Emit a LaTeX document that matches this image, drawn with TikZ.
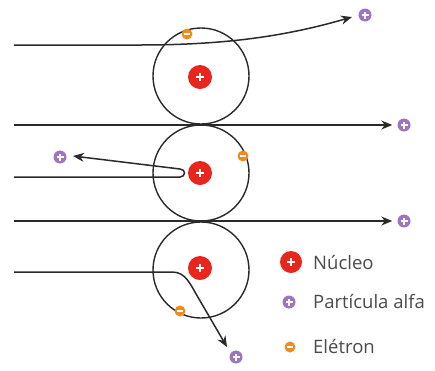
\documentclass[tikz,border=0pt]{standalone}
\usepackage{fontspec}
\setmainfont{Open Sans}
\usetikzlibrary{arrows.meta}
\definecolor{nucred}{HTML}{E8261E}
\definecolor{alphapurple}{HTML}{9C74C2}
\definecolor{elecorange}{HTML}{EE8C22}
\definecolor{inkgray}{HTML}{2A2A2A}
\definecolor{labelgray}{HTML}{4A4A4A}
\tikzset{
  orbit/.style={draw=inkgray, line width=1.4pt, circle, minimum size=96pt, inner sep=0pt},
  track/.style={draw=inkgray, line width=1.5pt, -{Stealth[length=11pt,width=9pt]}},
  plussign/.style={path picture={
      \draw[white, line width=1.1pt]
        ([xshift=-#1]path picture bounding box.center) --
        ([xshift=#1]path picture bounding box.center)
        ([yshift=-#1]path picture bounding box.center) --
        ([yshift=#1]path picture bounding box.center);}},
  minussign/.style={path picture={
      \draw[white, line width=1.1pt]
        ([xshift=-3pt]path picture bounding box.center) --
        ([xshift=3pt]path picture bounding box.center);}},
  nucleus/.style={circle, fill=nucred, minimum size=24pt, inner sep=0pt, plussign=4pt},
  alpha/.style={circle, fill=alphapurple, minimum size=13pt, inner sep=0pt, plussign=3.5pt},
  electron/.style={circle, fill=elecorange, minimum size=11pt, inner sep=0pt, minussign},
  legendtext/.style={anchor=west, text=labelgray, font=\fontsize{18.5}{22}\selectfont, inner sep=0pt}
}
\begin{document}
\begin{tikzpicture}[x=1pt, y=-1pt]
  \useasboundingbox (0,0) rectangle (435,370);

  % atoms: orbits
  \node[orbit] (o1) at (201,76) {};
  \node[orbit] (o2) at (201,173) {};
  \node[orbit] (o3) at (201,270) {};

  % start and turning points of the tracks
  \coordinate (s1) at (14,45);
  \coordinate (t1) at (352,17);
  \coordinate (s2) at (14,125);
  \coordinate (s3) at (14,177);
  \coordinate (u3) at (180,177);
  \coordinate (v3) at (180,169);
  \coordinate (t3) at (73,156);
  \coordinate (s4) at (14,221);
  \coordinate (s5) at (14,272);
  \coordinate (k5) at (172,272);
  \coordinate (t5) at (227,347);

  % alpha particles after scattering
  \node[alpha] (a1) at (365,15) {};
  \node[alpha] (a2) at (404,125) {};
  \node[alpha] (a3) at (60,157) {};
  \node[alpha] (a4) at (404,221) {};
  \node[alpha] (a5) at (236,357) {};

  % tracks of the alpha particles
  \draw[track] (s1) -- (140,45) .. controls (230,45) and (290,35) .. (t1);
  \draw[track, shorten >=5pt] (s2) -- (a2);
  \draw[track] (s3) -- (u3) .. controls (186,177) and (186,169) .. (v3) -- (t3);
  \draw[track, shorten >=5pt] (s4) -- (a4);
  \draw[track] (s5) -- (k5) .. controls (186,272) and (190,284) .. (199,299) -- (t5);

  % nuclei
  \node[nucleus] (n1) at (200,77) {};
  \node[nucleus] (n2) at (200,173) {};
  \node[nucleus] (n3) at (200,268) {};

  % electrons
  \node[electron] (e1) at (187,34) {};
  \node[electron] (e2) at (243,156) {};
  \node[electron] (e3) at (180,311) {};

  % legend
  \node[nucleus, minimum size=22pt] (ln) at (291,262) {};
  \node[alpha] (la) at (289,302) {};
  \node[electron] (le) at (290,347) {};
  \node[legendtext] (tn) at (313,262) {Núcleo};
  \node[legendtext] (ta) at (313,301) {Partícula alfa};
  \node[legendtext] (te) at (313,346) {Elétron};
\end{tikzpicture}
\end{document}
